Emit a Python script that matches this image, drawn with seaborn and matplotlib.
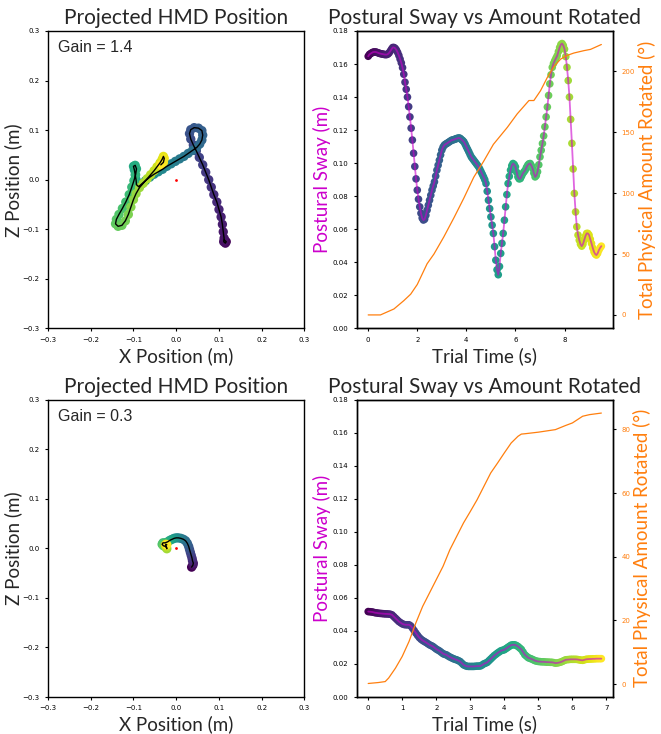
import matplotlib
matplotlib.use("Agg")
import matplotlib.pyplot as plt
import numpy as np
import pandas as pd
import seaborn as sns

ORANGE = "#ff7f0e"
MAGENTA = "#cc00cc"

# ---- trial 1 (gain 1.4): projected HMD path (x, z in m) ----
path1_x = [0.113, 0.117, 0.115, 0.111, 0.112, 0.110, 0.108, 0.105, 0.100, 0.095, 0.088, 0.082,
           0.076, 0.069, 0.062, 0.054, 0.047,
           0.040, 0.034, 0.031, 0.034, 0.042, 0.052, 0.060, 0.062, 0.060, 0.055, 0.048,
           0.038, 0.028, 0.018, 0.008, -0.002, -0.012, -0.022, -0.032, -0.042, -0.052, -0.062,
           -0.072, -0.080, -0.088,
           -0.093, -0.094, -0.096, -0.098, -0.100, -0.096, -0.093, -0.095, -0.099, -0.104,
           -0.110, -0.118, -0.126, -0.134, -0.140, -0.142, -0.136, -0.127, -0.119, -0.112,
           -0.106, -0.100, -0.094,
           -0.086, -0.077, -0.068, -0.060, -0.052, -0.045, -0.038, -0.033, -0.030, -0.028,
           -0.030, -0.036]
path1_z = [-0.122, -0.125, -0.128, -0.125, -0.118, -0.105, -0.090, -0.075, -0.060, -0.045, -0.030, -0.015,
           0.000, 0.015, 0.030, 0.045, 0.058,
           0.070, 0.082, 0.093, 0.101, 0.105, 0.104, 0.099, 0.090, 0.080, 0.072, 0.065,
           0.059, 0.053, 0.047, 0.042, 0.037, 0.032, 0.027, 0.021, 0.016, 0.011, 0.005,
           -0.002, -0.008, -0.014,
           -0.010, 0.000, 0.010, 0.020, 0.027, 0.029, 0.022, 0.010, -0.002, -0.015,
           -0.030, -0.045, -0.058, -0.070, -0.080, -0.089, -0.094, -0.092, -0.083, -0.070,
           -0.055, -0.040, -0.028,
           -0.016, -0.007, 0.002, 0.010, 0.018, 0.026, 0.034, 0.041, 0.047, 0.043,
           0.035, 0.030]

# ---- trial 1: postural sway (m), sampled every 0.05 s from 0 to 9.5 s ----
sway1 = [0.1647, 0.1658, 0.1663, 0.1668, 0.1672, 0.1673, 0.1673, 0.1671, 0.1668, 0.1665,
         0.1663, 0.1661, 0.1660, 0.1658, 0.1657, 0.1657, 0.1660, 0.1667, 0.1678, 0.1690,
         0.1700, 0.1700, 0.1695, 0.1685, 0.1670, 0.1652, 0.1630, 0.1607, 0.1578, 0.1538,
         0.1490, 0.1447, 0.1400, 0.1342, 0.1280, 0.1212, 0.1140, 0.1060, 0.0980, 0.0905,
         0.0837, 0.0782, 0.0736, 0.0697, 0.0668, 0.0656, 0.0661, 0.0685, 0.0716, 0.0746,
         0.0776, 0.0806, 0.0837, 0.0862, 0.0887, 0.0922, 0.0958, 0.0988, 0.1018, 0.1050,
         0.1079, 0.1097, 0.1109, 0.1115, 0.1119, 0.1124, 0.1129, 0.1134, 0.1139, 0.1141,
         0.1143, 0.1146, 0.1149, 0.1151, 0.1153, 0.1150, 0.1143, 0.1137, 0.1129, 0.1115,
         0.1099, 0.1084, 0.1069, 0.1053, 0.1038, 0.1028, 0.1018, 0.1008, 0.0998, 0.0988,
         0.0978, 0.0963, 0.0948, 0.0933, 0.0917, 0.0900, 0.0877, 0.0830, 0.0776, 0.0725,
         0.0675, 0.0625, 0.0575, 0.0495, 0.0413, 0.0355, 0.0325, 0.0375, 0.0454, 0.0515,
         0.0575, 0.0655, 0.0736, 0.0810, 0.0877, 0.0920, 0.0958, 0.0985, 0.0998, 0.0992,
         0.0978, 0.0945, 0.0917, 0.0905, 0.0907, 0.0922, 0.0938, 0.0948, 0.0958, 0.0975,
         0.0988, 0.0996, 0.0998, 0.0985, 0.0968, 0.0940, 0.0917, 0.0925, 0.0948, 0.0990,
         0.1038, 0.1078, 0.1119, 0.1165, 0.1220, 0.1280, 0.1340, 0.1410, 0.1480, 0.1535,
         0.1580, 0.1603, 0.1620, 0.1635, 0.1650, 0.1675, 0.1700, 0.1718, 0.1724, 0.1712,
         0.1690, 0.1645, 0.1580, 0.1500, 0.1400, 0.1265, 0.1120, 0.0965, 0.0817, 0.0705,
         0.0615, 0.0565, 0.0534, 0.0510, 0.0498, 0.0510, 0.0534, 0.0558, 0.0575, 0.0575,
         0.0565, 0.0540, 0.0514, 0.0487, 0.0464, 0.0450, 0.0444, 0.0455, 0.0474, 0.0488,
         0.0498]
time1 = np.round(np.arange(len(sway1)) * 0.05, 2)

# ---- trial 1: total physical amount rotated (deg) ----
rot1_t = [0, 0.5, 1.05, 1.45, 1.73, 2.0, 2.4, 2.68, 3.08, 3.5, 3.9, 4.3, 4.7, 5.1, 5.67,
          6.07, 6.55, 6.75, 7.02, 7.3, 7.57, 7.84, 8.1, 8.38, 8.8, 9.06, 9.5]
rot1_deg = [0, 0, 4.9, 11.7, 17, 25, 42, 50, 64, 80, 96, 113, 126, 140, 154,
            165, 176, 176, 184, 195, 204, 210, 213, 215, 217, 218, 222]

# ---- trial 2 (gain 0.3): projected HMD path ----
path2_x = [0.036, 0.039, 0.040, 0.038, 0.037, 0.035, 0.033, 0.031, 0.029, 0.026, 0.022, 0.017,
           0.011, 0.005, 0.000, -0.005, -0.010, -0.015, -0.020, -0.026, -0.031, -0.033,
           -0.030, -0.026, -0.023, -0.022, -0.023, -0.025, -0.024, -0.022]
path2_z = [-0.038, -0.034, -0.030, -0.025, -0.020, -0.014, -0.008, -0.002, 0.004, 0.010, 0.015, 0.018,
           0.020, 0.021, 0.021, 0.020, 0.018, 0.016, 0.013, 0.011, 0.011, 0.008,
           0.005, 0.004, 0.002, -0.001, 0.003, 0.006, 0.008, 0.007]

# ---- trial 2: postural sway (m), sampled every 0.05 s from 0 to 6.85 s ----
sway2 = [0.0517, 0.0516, 0.0515, 0.0513, 0.0510, 0.0509, 0.0507, 0.0506, 0.0505, 0.0504,
         0.0503, 0.0503, 0.0502, 0.0501, 0.0497, 0.0487, 0.0477, 0.0467, 0.0457, 0.0450,
         0.0443, 0.0439, 0.0437, 0.0437, 0.0437, 0.0430, 0.0417, 0.0402, 0.0387, 0.0373,
         0.0360, 0.0350, 0.0342, 0.0336, 0.0330, 0.0323, 0.0316, 0.0311, 0.0306, 0.0298,
         0.0290, 0.0284, 0.0278, 0.0270, 0.0262, 0.0258, 0.0255, 0.0248, 0.0242, 0.0237,
         0.0232, 0.0228, 0.0225, 0.0220, 0.0215, 0.0205, 0.0195, 0.0190, 0.0186, 0.0185,
         0.0185, 0.0185, 0.0185, 0.0186, 0.0187, 0.0187, 0.0188, 0.0194, 0.0201, 0.0205,
         0.0210, 0.0220, 0.0230, 0.0240, 0.0250, 0.0258, 0.0266, 0.0273, 0.0280, 0.0283,
         0.0286, 0.0293, 0.0300, 0.0307, 0.0314, 0.0316, 0.0316, 0.0312, 0.0306, 0.0297,
         0.0288, 0.0272, 0.0256, 0.0247, 0.0238, 0.0234, 0.0230, 0.0225, 0.0220, 0.0217,
         0.0215, 0.0214, 0.0213, 0.0213, 0.0212, 0.0211, 0.0211, 0.0210, 0.0210, 0.0208,
         0.0205, 0.0206, 0.0208, 0.0211, 0.0215, 0.0220, 0.0225, 0.0226, 0.0227, 0.0228,
         0.0228, 0.0228, 0.0228, 0.0227, 0.0225, 0.0223, 0.0222, 0.0225, 0.0228, 0.0229,
         0.0230, 0.0230, 0.0231, 0.0231, 0.0232, 0.0232, 0.0232, 0.0232]
time2 = np.round(np.arange(len(sway2)) * 0.05, 2)

rot2_t = [0, 0.3, 0.5, 0.6, 0.8, 1.0, 1.2, 1.4, 1.6, 1.8, 2.0, 2.2, 2.4, 2.6, 2.8, 3.0,
          3.2, 3.4, 3.6, 3.8, 4.0, 4.2, 4.4, 4.5, 4.6, 5.0, 5.5, 5.8, 6.0, 6.3, 6.5, 6.85]
rot2_deg = [0.2, 0.5, 0.8, 1.9, 5.0, 8.7, 13.4, 19.2, 24.4, 28.6, 32.8, 37, 42.2, 46.4, 50.6, 54.2,
            57.9, 62.1, 66.3, 69.4, 72.6, 75.7, 77.8, 78.5, 78.6, 79.1, 79.9, 81.2, 82.0, 84.1, 84.6, 85.1]

gains = ["Gain = 1.4", "Gain = 0.3"]
origin_x = [0.0]
origin_z = [0.0]
pos_ticks = [-0.3, -0.2, -0.1, 0.0, 0.1, 0.2, 0.3]
sway_ticks = [0.00, 0.02, 0.04, 0.06, 0.08, 0.10, 0.12, 0.14, 0.16, 0.18]

sns.set_style("ticks", {"axes.edgecolor": "black"})
plt.rcParams.update({
    "font.family": ["DejaVu Sans"],
    "axes.linewidth": 1.0,
    "xtick.labelsize": 5,
    "ytick.labelsize": 5,
    "xtick.major.size": 2.5,
    "ytick.major.size": 2.5,
    "xtick.color": "black",
    "ytick.color": "black",
})
LABEL_FONT = dict(family=["Lato", "DejaVu Sans"], fontsize=13.5)
TITLE_FONT = dict(family=["Lato", "DejaVu Sans"], fontsize=15)


def draw_path(ax, xs, zs, gain):
    df = pd.DataFrame({"x": xs, "z": zs, "sample": np.arange(len(xs))})
    sns.scatterplot(data=df, x="x", y="z", hue="sample", palette="viridis", s=45,
                    linewidth=0, legend=False, ax=ax, zorder=2)
    sns.lineplot(data=df, x="x", y="z", sort=False, estimator=None, color="black",
                 lw=1.0, ax=ax, zorder=3)
    sns.scatterplot(x=origin_x, y=origin_z, color="red", s=4, linewidth=0, ax=ax, zorder=4)
    ax.set_xlim(-0.3, 0.3)
    ax.set_ylim(-0.3, 0.3)
    ax.set_xticks(pos_ticks)
    ax.set_yticks(pos_ticks)
    ax.set_title("Projected HMD Position", pad=5, **TITLE_FONT)
    ax.set_xlabel("X Position (m)", labelpad=3, **LABEL_FONT)
    ax.set_ylabel("Z Position (m)", labelpad=0, **LABEL_FONT)
    ax.text(0.04, 0.968, gain, transform=ax.transAxes, ha="left", va="top",
            family=["Liberation Sans"], fontsize=11.5)


def draw_sway(ax, t, sway, rt, rdeg, xticks, rticks):
    df = pd.DataFrame({"t": t, "sway": sway, "sample": np.arange(len(t))})
    sns.scatterplot(data=df, x="t", y="sway", hue="sample", palette="viridis", s=30,
                    linewidth=0, legend=False, ax=ax, zorder=2)
    sns.lineplot(data=df, x="t", y="sway", color=MAGENTA, alpha=0.6, lw=1.3, ax=ax, zorder=3)
    ax.set_ylim(0, 0.18)
    ax.set_yticks(sway_ticks)
    ax.set_xticks(xticks)
    ax.set_title("Postural Sway vs Amount Rotated", pad=5, **TITLE_FONT)
    ax.set_xlabel("Trial Time (s)", labelpad=3, **LABEL_FONT)
    ax.set_ylabel("Postural Sway (m)", labelpad=1, color=MAGENTA, **LABEL_FONT)

    ax2 = ax.twinx()
    sns.lineplot(x=rt, y=rdeg, color=ORANGE, lw=0.9, ax=ax2)
    ax2.set_yticks(rticks)
    ax2.tick_params(axis="y", labelcolor=ORANGE, labelsize=5)
    ax2.set_ylabel("Total Physical Amount Rotated (°)", labelpad=2, color=ORANGE, **LABEL_FONT)


fig, axes = plt.subplots(2, 2, figsize=(6.61, 7.34), dpi=100)
fig.subplots_adjust(left=0.0726, right=0.9274, bottom=0.0504, top=0.9578,
                    wspace=0.203, hspace=0.239)

draw_path(axes[0, 0], path1_x, path1_z, gains[0])
draw_sway(axes[0, 1], time1, sway1, rot1_t, rot1_deg, [0, 2, 4, 6, 8], [0, 50, 100, 150, 200])
draw_path(axes[1, 0], path2_x, path2_z, gains[1])
draw_sway(axes[1, 1], time2, sway2, rot2_t, rot2_deg, [0, 1, 2, 3, 4, 5, 6, 7], [0, 20, 40, 60, 80])

fig.savefig("out.png", dpi=100)
